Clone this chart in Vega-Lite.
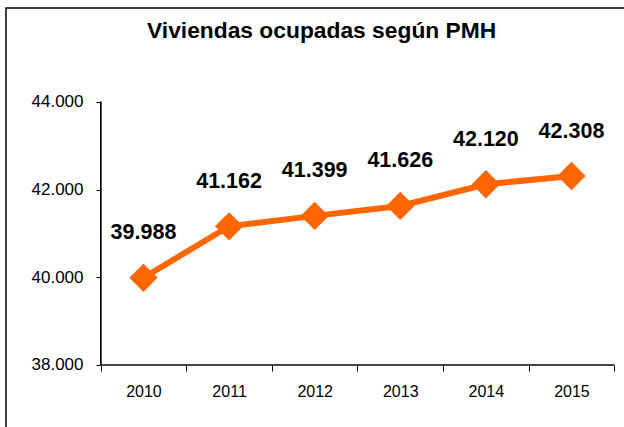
{
  "$schema": "https://vega.github.io/schema/vega-lite/v6.json",
  "width": 620,
  "height": 422,
  "autosize": {"type": "none"},
  "padding": {"left": 6, "top": 8, "right": 0, "bottom": 0},
  "background": "white",
  "config": {
    "view": {"stroke": "black", "strokeWidth": 1.5},
    "font": "Liberation Sans"
  },
  "title": {
    "text": "Viviendas ocupadas según PMH",
    "font": "Liberation Sans",
    "fontSize": 22.8,
    "fontWeight": "bold",
    "color": "black",
    "anchor": "start",
    "frame": "group",
    "baseline": "alphabetic",
    "dx": 141,
    "offset": -53
  },
  "data": {
    "values": [
      {"year": 2010, "value": 39988, "label": "39.988"},
      {"year": 2011, "value": 41162, "label": "41.162"},
      {"year": 2012, "value": 41399, "label": "41.399"},
      {"year": 2013, "value": 41626, "label": "41.626"},
      {"year": 2014, "value": 42120, "label": "42.120"},
      {"year": 2015, "value": 42308, "label": "42.308"}
    ]
  },
  "encoding": {
    "x": {
      "field": "year",
      "type": "quantitative",
      "scale": {"domain": [2008.394, 2015.637], "nice": false, "zero": false},
      "axis": {
        "title": null,
        "orient": "bottom",
        "offset": -65,
        "domain": false,
        "grid": false,
        "values": [2009.5, 2010.5, 2011.5, 2012.5, 2013.5, 2014.5, 2015.5],
        "labelExpr": "datum.value < 2015 ? toString(datum.value + 0.5) : ''",
        "labelOffset": 42.8,
        "labelFlush": false,
        "labelOverlap": false,
        "tickSize": 6,
        "tickColor": "black",
        "labelFont": "Liberation Sans",
        "labelFontSize": 16,
        "labelColor": "black",
        "labelPadding": 12
      }
    },
    "y": {
      "field": "value",
      "type": "quantitative",
      "scale": {"domain": [36518, 46138], "nice": false, "zero": false},
      "axis": {
        "title": null,
        "orient": "left",
        "offset": -95,
        "domain": false,
        "grid": false,
        "values": [38000, 40000, 42000, 44000],
        "labelExpr": "replace(format(datum.value, ','), ',', '.')",
        "labelFlush": false,
        "labelOverlap": false,
        "tickSize": 5,
        "tickColor": "black",
        "labelFont": "Liberation Sans",
        "labelFontSize": 17,
        "labelColor": "black",
        "labelPadding": 13
      }
    }
  },
  "layer": [
    {
      "mark": {"type": "rule", "color": "#444", "strokeWidth": 1},
      "encoding": {
        "x": {"datum": 2009.5, "type": "quantitative"},
        "x2": {"datum": 2015.5},
        "y": {"datum": 38000, "type": "quantitative"}
      }
    },
    {
      "mark": {"type": "rule", "color": "black", "strokeWidth": 1},
      "encoding": {
        "x": {"datum": 2009.5, "type": "quantitative"},
        "y": {"datum": 38000, "type": "quantitative"},
        "y2": {"datum": 44000}
      }
    },
    {
      "mark": {"type": "line", "color": "#FF6600", "strokeWidth": 6}
    },
    {
      "mark": {"type": "point", "shape": "diamond", "size": 800, "filled": true, "color": "#FF6600", "opacity": 1}
    },
    {
      "mark": {"type": "text", "dy": -44.5, "fontSize": 21.5, "fontWeight": "bold", "color": "black", "font": "Liberation Sans"},
      "encoding": {"text": {"field": "label"}}
    }
  ]
}
